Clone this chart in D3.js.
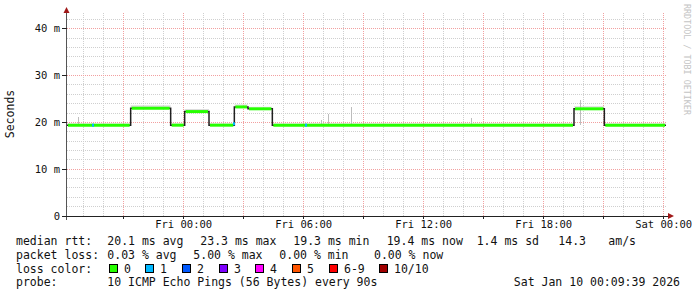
<!DOCTYPE html>
<html>
<head>
<meta charset="utf-8">
<script src="https://cdn.jsdelivr.net/npm/d3@7"></script>
<style>
  body { margin: 0; background: #fff; }
  svg { display: block; }
  text { font-family: "DejaVu Sans Mono", monospace; fill: #111; }
</style>
</head>
<body>
<script>
// median rtt steps (ms), start time of each level
const stepStart = ["2026-01-08T18:13", "2026-01-08T21:24", "2026-01-08T23:24", "2026-01-09T00:06",
  "2026-01-09T01:19", "2026-01-09T02:35", "2026-01-09T03:16", "2026-01-09T04:29",
  "2026-01-09T19:34", "2026-01-09T21:05"];
const stepMedian = [19.3, 22.9, 19.3, 22.2, 19.3, 23.2, 22.8, 19.3, 22.8, 19.3];
const stepSmokeMax = [19.4, 23.2, 19.4, 22.4, 19.4, 23.4, 22.9, 19.4, 23.0, 19.4];
const dataEnd = "2026-01-10T00:10";

// samples with 1/10 loss
const lossTimes = ["2026-01-08T19:31", "2026-01-09T02:34", "2026-01-09T06:10"];
const lossValues = [19.3, 19.6, 19.3];

// single smoke spikes (max ping, ms)
const spikeTimes = ["2026-01-08T18:47", "2026-01-09T06:54", "2026-01-09T07:17", "2026-01-09T08:25",
  "2026-01-09T14:25", "2026-01-09T19:53"];
const spikeTops = [21.0, 20.4, 21.7, 23.2, 20.8, 24.7];

const yTicks = [0, 10, 20, 30, 40];
const yTickLabels = ["0", "10 m", "20 m", "30 m", "40 m"];
const xLabelTimes = ["2026-01-09T00:00", "2026-01-09T06:00", "2026-01-09T12:00", "2026-01-09T18:00", "2026-01-10T00:00"];

const lossNames = ["0", "1", "2", "3", "4", "5", "6-9", "10/10"];
const lossColors = ["#26ff00", "#00b8ff", "#0059ff", "#7e00ff", "#ff00ff", "#ff5500", "#ff0000", "#a10000"];

const width = 697, height = 297;
const parse = d3.timeParse("%Y-%m-%dT%H:%M");
const plotTop = 13;

const x = d3.scaleTime()
  .domain([parse("2026-01-08T18:13"), parse("2026-01-10T00:13")])
  .range([67, 667]);
const y = d3.scaleLinear().domain([0, 40]).range([215.5, 28.3]);
const px = v => Math.round(v) + 0.5;

const svg = d3.select("body").append("svg")
  .attr("width", width)
  .attr("height", height);

// grid
const grid = svg.append("g").attr("shape-rendering", "crispEdges");
const hours = x.ticks(d3.timeHour.every(1));
grid.selectAll("line.vmin").data(hours.filter(d => d.getHours() % 3 !== 0)).enter()
  .append("line")
  .attr("x1", d => px(x(d))).attr("x2", d => px(x(d)))
  .attr("y1", plotTop).attr("y2", y(0))
  .attr("stroke", "#cfcfcf").attr("stroke-dasharray", "1,1");
const yMinor = d3.range(0, 44, 2).filter(v => v % 10 !== 0 && y(v) >= plotTop);
grid.selectAll("line.hmin").data(yMinor).enter()
  .append("line")
  .attr("x1", 67).attr("x2", 667)
  .attr("y1", d => px(y(d))).attr("y2", d => px(y(d)))
  .attr("stroke", "#cfcfcf").attr("stroke-dasharray", "1,1");
grid.selectAll("line.vmaj").data(hours.filter(d => d.getHours() % 3 === 0)).enter()
  .append("line")
  .attr("x1", d => px(x(d))).attr("x2", d => px(x(d)))
  .attr("y1", plotTop).attr("y2", y(0))
  .attr("stroke", "#f2a0a0").attr("stroke-dasharray", "1,1");
grid.selectAll("line.hmaj").data(yTicks.slice(1)).enter()
  .append("line")
  .attr("x1", 67).attr("x2", 667)
  .attr("y1", d => px(y(d))).attr("y2", d => px(y(d)))
  .attr("stroke", "#f2a0a0").attr("stroke-dasharray", "1,1");

// smoke
const starts = stepStart.map(parse);
const ends = starts.slice(1).concat([parse(dataEnd)]);
svg.append("g").selectAll("rect").data(stepMedian).enter()
  .append("rect")
  .attr("x", (d, i) => x(starts[i]))
  .attr("width", (d, i) => x(ends[i]) - x(starts[i]))
  .attr("y", (d, i) => y(stepSmokeMax[i]) - 1.5)
  .attr("height", (d, i) => y(d) - y(stepSmokeMax[i]))
  .attr("fill", "#d6d6d6");
svg.append("g").attr("shape-rendering", "crispEdges").selectAll("line").data(spikeTimes).enter()
  .append("line")
  .attr("x1", d => px(x(parse(d)))).attr("x2", d => px(x(parse(d))))
  .attr("y1", (d, i) => y(spikeTops[i])).attr("y2", y(19.3))
  .attr("stroke", "#bdbdbd");

// median step line
const pts = stepMedian.map((v, i) => [starts[i], v]).concat([[parse(dataEnd), stepMedian[stepMedian.length - 1]]]);
svg.append("path")
  .attr("d", d3.line().x(d => x(d[0])).y(d => y(d[1])).curve(d3.curveStepAfter)(pts))
  .attr("fill", "none").attr("stroke", "#202020").attr("stroke-width", 1.5);

// loss coloured median
svg.append("g").selectAll("line").data(stepMedian).enter()
  .append("line")
  .attr("x1", (d, i) => x(starts[i]) + 1)
  .attr("x2", (d, i) => x(ends[i]) - 1)
  .attr("y1", d => y(d)).attr("y2", d => y(d))
  .attr("stroke", lossColors[0]).attr("stroke-width", 3);
svg.append("g").selectAll("rect").data(lossTimes).enter()
  .append("rect")
  .attr("x", d => x(parse(d)) - 1)
  .attr("y", (d, i) => y(lossValues[i]) - 1.5)
  .attr("width", 2).attr("height", 3)
  .attr("fill", lossColors[1]);

// axes
const axes = svg.append("g").attr("shape-rendering", "crispEdges");
axes.append("line").attr("x1", 62).attr("x2", 669).attr("y1", px(y(0))).attr("y2", px(y(0)))
  .attr("stroke", "#222");
axes.append("line").attr("x1", 66.5).attr("x2", 66.5).attr("y1", 220).attr("y2", 12)
  .attr("stroke", "#555");
axes.selectAll("line.ty").data(yTicks).enter().append("line")
  .attr("x1", 62).attr("x2", 67)
  .attr("y1", d => px(y(d))).attr("y2", d => px(y(d)))
  .attr("stroke", "#222");
axes.selectAll("line.tx").data(hours.filter(d => d.getHours() % 3 === 0)).enter().append("line")
  .attr("x1", d => px(x(d))).attr("x2", d => px(x(d)))
  .attr("y1", y(0)).attr("y2", y(0) + 3)
  .attr("stroke", "#222");
svg.append("path").attr("d", "M63.5,13 L69.5,13 L66.5,7 Z").attr("fill", "#a01818");
svg.append("path").attr("d", "M668,213 L668,219 L674,216 Z").attr("fill", "#a01818");

// tick labels
svg.append("g").selectAll("text").data(yTicks).enter().append("text")
  .attr("x", 60).attr("y", d => y(d) + 4)
  .attr("text-anchor", "end").attr("font-size", "10.5px")
  .text((d, i) => yTickLabels[i]);
svg.append("g").selectAll("text").data(xLabelTimes).enter().append("text")
  .attr("x", d => x(parse(d)) + 1).attr("y", 228)
  .attr("text-anchor", "middle").attr("font-size", "10.5px")
  .text(d => d3.timeFormat("%a %H:%M")(parse(d)));

svg.append("text")
  .attr("transform", "translate(14,114) rotate(-90)")
  .attr("text-anchor", "middle").attr("font-size", "11.5px")
  .text("Seconds");
svg.append("text")
  .attr("transform", "translate(684,4) rotate(90)")
  .attr("font-size", "8.4px").style("fill", "#c4c4c4")
  .text("RRDTOOL / TOBI OETIKER");

// legend
const legendRows = [
  { y: 245, parts: [[16, "median rtt:"], [107.3, "20.1 ms avg"], [200.3, "23.3 ms max"], [293.3, "19.3 ms min"],
    [386.7, "19.4 ms now"], [476.7, "1.4 ms sd"], [558.3, "14.3"], [608.3, "am/s"]] },
  { y: 259, parts: [[16, "packet loss:"], [107.3, "0.03 % avg"], [193.3, "5.00 % max"], [279.3, "0.00 % min"],
    [374, "0.00 % now"]] },
  { y: 272.7, parts: [[16, "loss color:"]] },
  { y: 286.4, parts: [[16, "probe:"], [107.3, "10 ICMP Echo Pings (56 Bytes) every 90s"]] }
];
const leg = svg.append("g").attr("font-size", "11.5px");
legendRows.forEach(r => {
  leg.selectAll(null).data(r.parts).enter().append("text")
    .attr("x", d => d[0]).attr("y", r.y)
    .attr("xml:space", "preserve")
    .text(d => d[1]);
});
leg.append("text").attr("x", 680).attr("y", 286.4).attr("text-anchor", "end")
  .text("Sat Jan 10 00:09:39 2026");

// loss colour swatches: each entry is a box, its label, then a gap
const swatchX = [];
lossNames.reduce((pos, name) => { swatchX.push(pos); return pos + 15 + name.length * 6.93 + 14.75; }, 108.5);
const lossLeg = leg.selectAll("g.loss").data(lossNames).enter().append("g")
  .attr("class", "loss")
  .attr("transform", (d, i) => `translate(${Math.round(swatchX[i]) + 0.5},0)`);
lossLeg.append("rect")
  .attr("x", 0).attr("y", 264.5).attr("width", 8).attr("height", 8)
  .attr("fill", (d, i) => lossColors[i]).attr("stroke", "#000").attr("stroke-width", 1)
  .attr("shape-rendering", "crispEdges");
lossLeg.append("text").attr("x", 14.5).attr("y", 272.7).text(d => d);
</script>
</body>
</html>
